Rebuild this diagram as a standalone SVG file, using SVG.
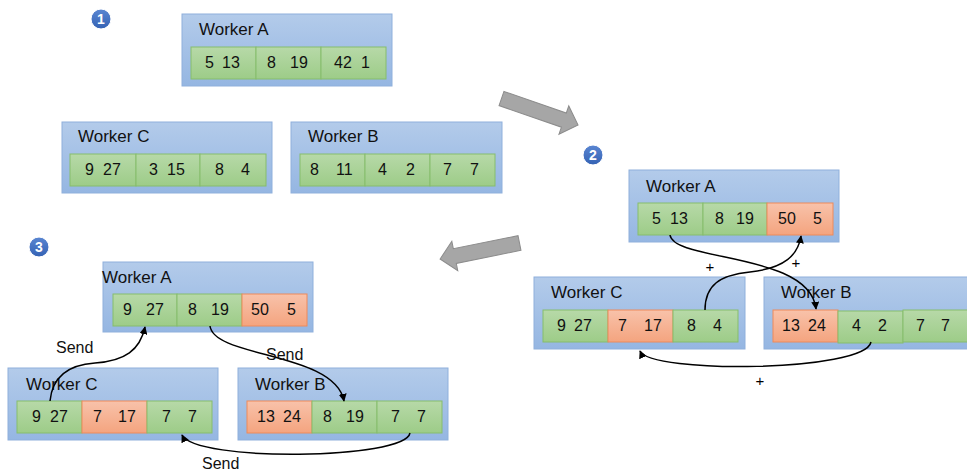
<svg xmlns="http://www.w3.org/2000/svg" width="967" height="473" viewBox="0 0 967 473">
  <defs>
    <linearGradient id="gBox" x1="0" y1="0" x2="0" y2="1">
      <stop offset="0" stop-color="#b3cbea"/>
      <stop offset="1" stop-color="#95b6e2"/>
    </linearGradient>
    <linearGradient id="gGreen" x1="0" y1="0" x2="0" y2="1">
      <stop offset="0" stop-color="#b7d9a8"/>
      <stop offset="1" stop-color="#9dcc88"/>
    </linearGradient>
    <linearGradient id="gOrange" x1="0" y1="0" x2="0" y2="1">
      <stop offset="0" stop-color="#f8c2aa"/>
      <stop offset="1" stop-color="#f4a47f"/>
    </linearGradient>
    <linearGradient id="gBadge" x1="0" y1="0" x2="0" y2="1">
      <stop offset="0" stop-color="#5a86d2"/>
      <stop offset="1" stop-color="#3462b4"/>
    </linearGradient>
    <marker id="head" viewBox="0 0 10 10" refX="9" refY="5" markerWidth="8" markerHeight="8" markerUnits="userSpaceOnUse" orient="auto">
      <path d="M0,0 L10,5 L0,10 Z" fill="#000"/>
    </marker>
    <!-- block arrow pointing along +x, tail centred at origin -->
    <polygon id="bigArrow" points="0,-7.5 66,-7.5 66,-15 81,0 66,15 66,7.5 0,7.5"/>
  </defs>
  <style>
    .box { fill: url(#gBox); stroke: #8fb0dc; stroke-width: 1; }
    .g { fill: url(#gGreen); stroke: #86bd6c; stroke-width: 1; }
    .o { fill: url(#gOrange); stroke: #ee8a5a; stroke-width: 1; }
    .lbl { font-family: "Liberation Sans", Arial, sans-serif; font-size: 17px; fill: #111; }
    .num { font-family: "Liberation Sans", Arial, sans-serif; font-size: 16px; fill: #111; }
    .note { font-family: "Liberation Sans", Arial, sans-serif; font-size: 16px; fill: #111; }
    .plus { font-family: "Liberation Sans", Arial, sans-serif; font-size: 15px; fill: #000; text-anchor: middle; }
    .badge { fill: url(#gBadge); stroke: #ffffff; stroke-width: 1; }
    .badgeTxt { font-family: "Liberation Sans", Arial, sans-serif; font-size: 14px; font-weight: bold; fill: #fff; text-anchor: middle; }
    .link { fill: none; stroke: #000; stroke-width: 1.5; marker-end: url(#head); }
    .step { fill: #a6a6a6; stroke: #8c8c8c; stroke-width: 1; }
  </style>

  <!-- step badges -->
  <g id="badge1"><circle class="badge" cx="101" cy="19" r="10"/><text class="badgeTxt" x="101" y="24">1</text></g>
  <g id="badge2"><circle class="badge" cx="593" cy="155" r="10"/><text class="badgeTxt" x="593" y="160">2</text></g>
  <g id="badge3"><circle class="badge" cx="39" cy="247" r="10"/><text class="badgeTxt" x="39" y="252">3</text></g>

  <!-- step arrows -->
  <g id="stepArrows">
    <use href="#bigArrow" class="step" transform="translate(501.5,98.5) rotate(19.1)"/>
    <use href="#bigArrow" class="step" transform="translate(519.5,243) rotate(168.6)"/>
  </g>

  <!-- ===== step 1 ===== -->
  <g id="s1-workerA">
    <rect class="box" x="182" y="14" width="210" height="72"/>
    <text class="lbl" x="199" y="35">Worker A</text>
    <rect class="g" x="191" y="47" width="65" height="32"/>
    <rect class="g" x="256" y="47" width="65" height="32"/>
    <rect class="g" x="321" y="47" width="65" height="32"/>
    <text class="num" y="68"><tspan x="205">5</tspan><tspan x="222">13</tspan></text>
    <text class="num" y="68"><tspan x="267">8</tspan><tspan x="290">19</tspan></text>
    <text class="num" y="68"><tspan x="334">42</tspan><tspan x="361">1</tspan></text>
  </g>
  <g id="s1-workerC">
    <rect class="box" x="62" y="122" width="210" height="71"/>
    <text class="lbl" x="78" y="142">Worker C</text>
    <rect class="g" x="70" y="154" width="66" height="32"/>
    <rect class="g" x="136" y="154" width="64" height="32"/>
    <rect class="g" x="200" y="154" width="66" height="32"/>
    <text class="num" y="175"><tspan x="85">9</tspan><tspan x="103">27</tspan></text>
    <text class="num" y="175"><tspan x="149">3</tspan><tspan x="167">15</tspan></text>
    <text class="num" y="175"><tspan x="215">8</tspan><tspan x="241">4</tspan></text>
  </g>
  <g id="s1-workerB">
    <rect class="box" x="291" y="122" width="211" height="71"/>
    <text class="lbl" x="308" y="142">Worker B</text>
    <rect class="g" x="300" y="154" width="65" height="32"/>
    <rect class="g" x="365" y="154" width="65" height="32"/>
    <rect class="g" x="430" y="154" width="65" height="32"/>
    <text class="num" y="175"><tspan x="310">8</tspan><tspan x="336">11</tspan></text>
    <text class="num" y="175"><tspan x="378">4</tspan><tspan x="406">2</tspan></text>
    <text class="num" y="175"><tspan x="443">7</tspan><tspan x="470">7</tspan></text>
  </g>

  <!-- ===== step 2 ===== -->
  <g id="s2-workerA">
    <rect class="box" x="629" y="170" width="210" height="72"/>
    <text class="lbl" x="646" y="192">Worker A</text>
    <rect class="g" x="638" y="203" width="65" height="32"/>
    <rect class="g" x="703" y="203" width="64" height="32"/>
    <rect class="o" x="767" y="203" width="66" height="32"/>
    <text class="num" y="224"><tspan x="652">5</tspan><tspan x="670">13</tspan></text>
    <text class="num" y="224"><tspan x="715">8</tspan><tspan x="736">19</tspan></text>
    <text class="num" y="224"><tspan x="778">50</tspan><tspan x="813">5</tspan></text>
  </g>
  <g id="s2-workerC">
    <rect class="box" x="534" y="277" width="211" height="72"/>
    <text class="lbl" x="551" y="298">Worker C</text>
    <rect class="g" x="543" y="310" width="65" height="32"/>
    <rect class="o" x="608" y="310" width="65" height="32"/>
    <rect class="g" x="673" y="310" width="65" height="32"/>
    <text class="num" y="331"><tspan x="557">9</tspan><tspan x="574">27</tspan></text>
    <text class="num" y="331"><tspan x="618">7</tspan><tspan x="644">17</tspan></text>
    <text class="num" y="331"><tspan x="687">8</tspan><tspan x="713">4</tspan></text>
  </g>
  <g id="s2-workerB">
    <rect class="box" x="764" y="277" width="215" height="72"/>
    <text class="lbl" x="781" y="298">Worker B</text>
    <rect class="o" x="773" y="310" width="65" height="32"/>
    <rect class="g" x="838" y="311" width="65" height="32"/>
    <rect class="g" x="903" y="310" width="70" height="32"/>
    <text class="num" y="331"><tspan x="782">13</tspan><tspan x="808">24</tspan></text>
    <text class="num" y="331"><tspan x="852">4</tspan><tspan x="878">2</tspan></text>
    <text class="num" y="331"><tspan x="916">7</tspan><tspan x="941">7</tspan></text>
  </g>

  <!-- ===== step 3 ===== -->
  <g id="s3-workerA">
    <rect class="box" x="103" y="262" width="210" height="70"/>
    <text class="lbl" x="102" y="283">Worker A</text>
    <rect class="g" x="113" y="294" width="64" height="32"/>
    <rect class="g" x="177" y="294" width="65" height="32"/>
    <rect class="o" x="242" y="294" width="65" height="32"/>
    <text class="num" y="315"><tspan x="123">9</tspan><tspan x="146">27</tspan></text>
    <text class="num" y="315"><tspan x="188">8</tspan><tspan x="211">19</tspan></text>
    <text class="num" y="315"><tspan x="251">50</tspan><tspan x="287">5</tspan></text>
  </g>
  <g id="s3-workerC">
    <rect class="box" x="8" y="368" width="210" height="72"/>
    <text class="lbl" x="26" y="390">Worker C</text>
    <rect class="g" x="17" y="401" width="65" height="32"/>
    <rect class="o" x="82" y="401" width="65" height="32"/>
    <rect class="g" x="147" y="401" width="65" height="32"/>
    <text class="num" y="422"><tspan x="32">9</tspan><tspan x="50">27</tspan></text>
    <text class="num" y="422"><tspan x="93">7</tspan><tspan x="118">17</tspan></text>
    <text class="num" y="422"><tspan x="162">7</tspan><tspan x="188">7</tspan></text>
  </g>
  <g id="s3-workerB">
    <rect class="box" x="238" y="368" width="210" height="72"/>
    <text class="lbl" x="255" y="390">Worker B</text>
    <rect class="o" x="247" y="401" width="65" height="32"/>
    <rect class="g" x="312" y="401" width="65" height="32"/>
    <rect class="g" x="377" y="401" width="65" height="32"/>
    <text class="num" y="422"><tspan x="257">13</tspan><tspan x="283">24</tspan></text>
    <text class="num" y="422"><tspan x="323">8</tspan><tspan x="346">19</tspan></text>
    <text class="num" y="422"><tspan x="391">7</tspan><tspan x="417">7</tspan></text>
  </g>

  <!-- ===== connectors ===== -->
  <g id="connectors">
    <!-- step 2: reduce-scatter additions -->
    <path class="link" d="M670,235 C674,262 810,252 816,309"/>
    <path class="link" d="M705,310 C705,285 720,275 750,272 C785,268 798,255 801,236"/>
    <path class="link" d="M871,342 C865,372 650,374 640,351"/>
    <text class="plus" x="710" y="272">+</text>
    <text class="plus" x="796" y="268">+</text>
    <text class="plus" x="760" y="386">+</text>

    <!-- step 3: all-gather sends -->
    <path class="link" d="M50,401 C52,380 65,365 95,363 C125,361 140,350 145,327"/>
    <path class="link" d="M210,326 C214,358 335,352 344,401"/>
    <path class="link" d="M410,433 C405,460 195,462 182,435"/>
    <text class="note" x="56" y="353">Send</text>
    <text class="note" x="266" y="360">Send</text>
    <text class="note" x="202" y="469">Send</text>
  </g>
</svg>
